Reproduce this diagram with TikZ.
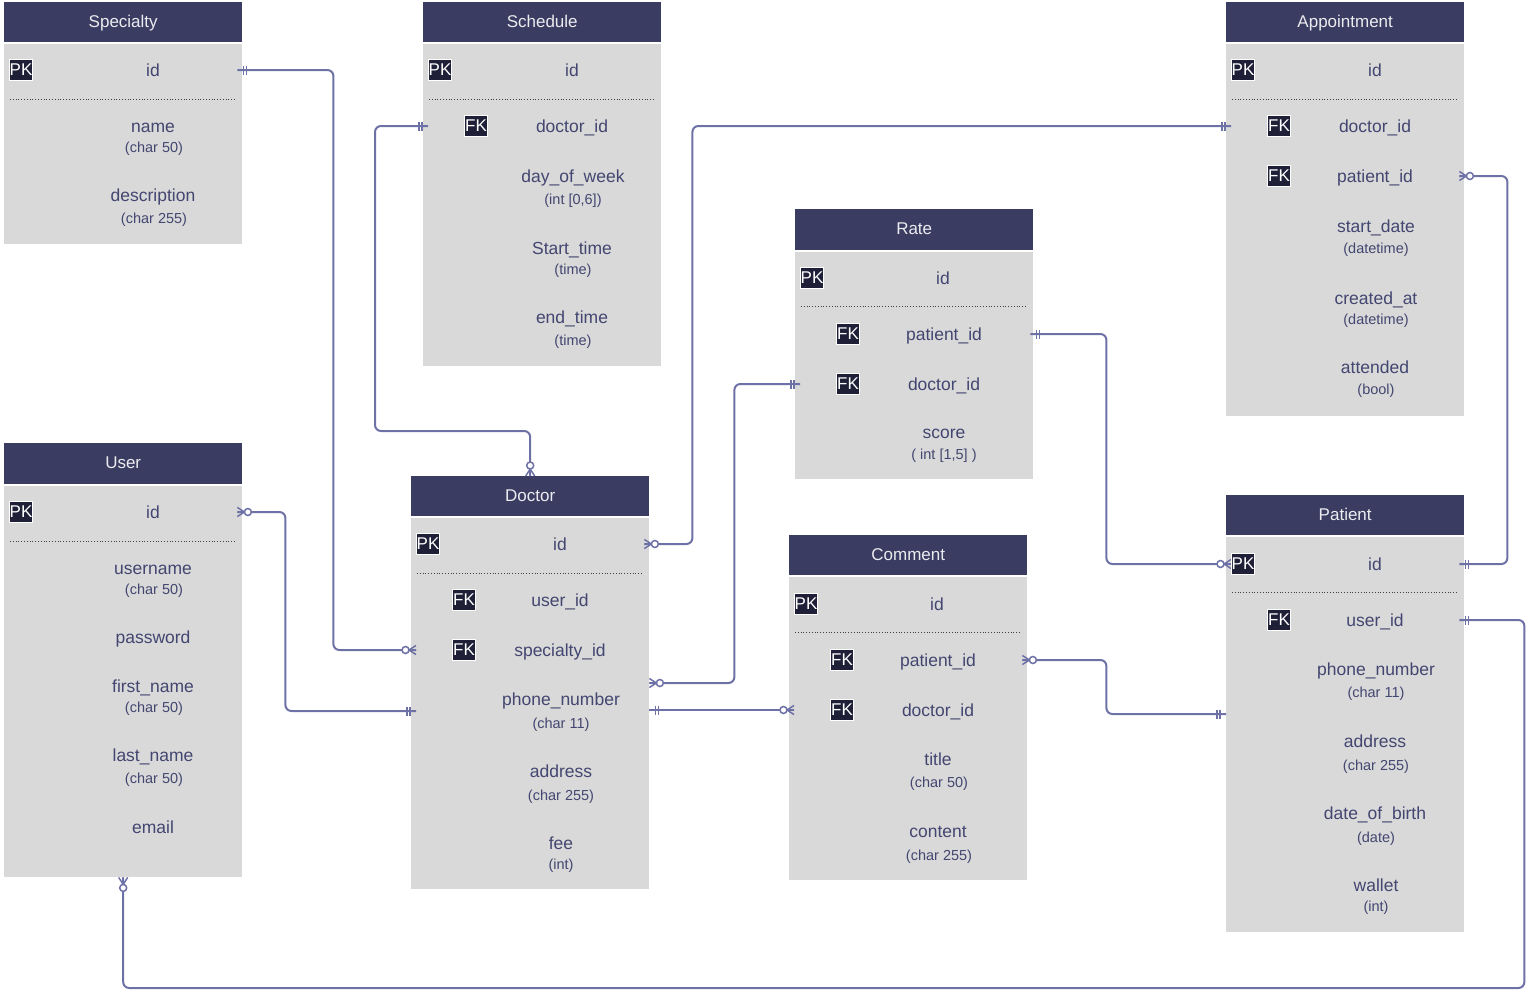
\documentclass[tikz,border=0pt]{standalone}
\usepackage{fontspec}
\setmainfont{Liberation Sans}
\usetikzlibrary{positioning,calc,decorations.markings}
\definecolor{hdrblue}{HTML}{3B3C61}
\definecolor{bodygray}{HTML}{D9D9D9}
\definecolor{keyblue}{HTML}{1F2038}
\definecolor{fieldtext}{HTML}{434670}
\definecolor{linkblue}{HTML}{6E71A6}
\tikzset{
  hdr/.style={fill=hdrblue, text=white!90!hdrblue, minimum width=238pt, minimum height=40pt,
    anchor=north west, inner sep=0pt, text height=13pt, text depth=3pt,
    font=\fontsize{17}{20}\selectfont},
  body/.style={fill=bodygray, minimum width=238pt, anchor=north west, inner sep=0pt},
  fld/.style={text=fieldtext, inner sep=0pt, text height=13.5pt, text depth=0.5pt,
    font=\fontsize{17.5}{20}\selectfont},
  typ/.style={text=fieldtext, inner sep=0pt, text height=11.5pt, text depth=0pt,
    font=\fontsize{14.5}{17}\selectfont},
  key/.style={fill=keyblue, text=white, draw=white, line width=0.7pt, inner sep=0pt,
    minimum width=23pt, minimum height=21pt, font=\fontsize{17}{20}\selectfont},
  sep/.style={dotted, line width=0.8pt, draw=black!75},
  rel/.style={draw=linkblue, line width=2pt, rounded corners=6pt},
  mk/.style={draw=linkblue, line width=1.5pt, rounded corners=0pt},
  one start/.style={postaction={decorate, decoration={markings,
    mark=at position 0pt with {\draw[mk] (6,-4.5)--(6,4.5) (9,-4.5)--(9,4.5);}}}},
  one end/.style={postaction={decorate, decoration={markings,
    mark=at position 1 with {\draw[mk] (-6,-4.5)--(-6,4.5) (-9,-4.5)--(-9,4.5);}}}},
  many start/.style={postaction={decorate, decoration={markings,
    mark=at position 0pt with {\draw[mk] (0,-4.5)--(7,0)--(0,4.5) (0,0)--(7,0);
      \draw[mk, fill=white] (10.5,0) circle (3.5);}}}},
  many end/.style={postaction={decorate, decoration={markings,
    mark=at position 1 with {\draw[mk] (0,-4.5)--(-7,0)--(0,4.5) (0,0)--(-7,0);
      \draw[mk, fill=white] (-10.5,0) circle (3.5);}}}},
}

\begin{document}
\begin{tikzpicture}[x=1pt, y=-1pt]
\useasboundingbox (0,0) rectangle (1527,991);

% Specialty
\node[hdr] (sp-h) at (4,2) {Specialty};
\node[body, minimum height=200pt] (sp) at (4,44) {};
\node[key] (sp-pk) at (21,70) {PK};
\node[fld] (sp-id) at (153,70) {id};
\draw[sep] (10,99) -- (236,99);
\node[fld] (sp-name) at (153,126) {name};
\node[typ] at (154,147) {(char 50)};
\node[fld] (sp-desc) at (153,195) {description};
\node[typ] at (154,218) {(char 255)};

% Schedule
\node[hdr] (sch-h) at (423,2) {Schedule};
\node[body, minimum height=322pt] (sch) at (423,44) {};
\node[key] (sch-pk) at (440,70) {PK};
\node[fld] (sch-id) at (572,70) {id};
\draw[sep] (429,99) -- (655,99);
\node[key] (sch-fk) at (476,126) {FK};
\node[fld] (sch-doc) at (572,126) {doctor\_id};
\node[fld] (sch-day) at (573,176) {day\_of\_week};
\node[typ] at (573,199) {(int [0,6])};
\node[fld] (sch-start) at (572,248) {Start\_time};
\node[typ] at (573,269) {(time)};
\node[fld] (sch-end) at (572,317) {end\_time};
\node[typ] at (573,340) {(time)};

% Appointment
\node[hdr] (app-h) at (1226,2) {Appointment};
\node[body, minimum height=372pt] (app) at (1226,44) {};
\node[key] (app-pk) at (1243,70) {PK};
\node[fld] (app-id) at (1375,70) {id};
\draw[sep] (1232,99) -- (1458,99);
\node[key] (app-fk1) at (1279,126) {FK};
\node[fld] (app-doc) at (1375,126) {doctor\_id};
\node[key] (app-fk2) at (1279,176) {FK};
\node[fld] (app-pat) at (1375,176) {patient\_id};
\node[fld] (app-start) at (1376,226) {start\_date};
\node[typ] at (1376,248) {(datetime)};
\node[fld] (app-created) at (1376,298) {created\_at};
\node[typ] at (1376,319) {(datetime)};
\node[fld] (app-att) at (1375,367) {attended};
\node[typ] at (1376,389) {(bool)};

% Rate
\node[hdr, minimum height=41pt] (rate-h) at (795,209) {Rate};
\node[body, minimum height=227pt] (rate) at (795,252) {};
\node[key] (rate-pk) at (812,278) {PK};
\node[fld] (rate-id) at (943,278) {id};
\draw[sep] (801,306) -- (1027,306);
\node[key] (rate-fk1) at (848,334) {FK};
\node[fld] (rate-pat) at (944,334) {patient\_id};
\node[key] (rate-fk2) at (848,384) {FK};
\node[fld] (rate-doc) at (944,384) {doctor\_id};
\node[fld] (rate-score) at (944,432) {score};
\node[typ] at (944,454) {( int [1,5] )};

% User
\node[hdr, minimum height=41pt] (user-h) at (4,443) {User};
\node[body, minimum height=391pt] (user) at (4,486) {};
\node[key] (user-pk) at (21,512) {PK};
\node[fld] (user-id) at (153,512) {id};
\draw[sep] (10,541) -- (236,541);
\node[fld] (user-name) at (153,568) {username};
\node[typ] at (154,589) {(char 50)};
\node[fld] (user-pw) at (153,637) {password};
\node[fld] (user-first) at (153,686) {first\_name};
\node[typ] at (154,707) {(char 50)};
\node[fld] (user-last) at (153,755) {last\_name};
\node[typ] at (154,778) {(char 50)};
\node[fld] (user-mail) at (153,827) {email};

% Doctor
\node[hdr] (doc-h) at (411,476) {Doctor};
\node[body, minimum height=371pt] (doc) at (411,518) {};
\node[key] (doc-pk) at (428,544) {PK};
\node[fld] (doc-id) at (560,544) {id};
\draw[sep] (417,573) -- (643,573);
\node[key] (doc-fk1) at (464,600) {FK};
\node[fld] (doc-user) at (560,600) {user\_id};
\node[key] (doc-fk2) at (464,650) {FK};
\node[fld] (doc-spec) at (560,650) {specialty\_id};
\node[fld] (doc-phone) at (561,699) {phone\_number};
\node[typ] at (561,723) {(char 11)};
\node[fld] (doc-addr) at (561,771) {address};
\node[typ] at (561,795) {(char 255)};
\node[fld] (doc-fee) at (561,843) {fee};
\node[typ] at (561,864) {(int)};

% Comment
\node[hdr] (comm-h) at (789,535) {Comment};
\node[body, minimum height=303pt] (comm) at (789,577) {};
\node[key] (comm-pk) at (806,604) {PK};
\node[fld] (comm-id) at (937,604) {id};
\draw[sep] (795,632) -- (1021,632);
\node[key] (comm-fk1) at (842,660) {FK};
\node[fld] (comm-pat) at (938,660) {patient\_id};
\node[key] (comm-fk2) at (842,710) {FK};
\node[fld] (comm-doc) at (938,710) {doctor\_id};
\node[fld] (comm-title) at (938,759) {title};
\node[typ] at (939,782) {(char 50)};
\node[fld] (comm-content) at (938,831) {content};
\node[typ] at (939,855) {(char 255)};

% Patient
\node[hdr] (pat-h) at (1226,495) {Patient};
\node[body, minimum height=395pt] (pat) at (1226,537) {};
\node[fld] (pat-id) at (1375,564) {id};
\draw[sep] (1232,592) -- (1458,592);
\node[key] (pat-fk) at (1279,620) {FK};
\node[fld] (pat-user) at (1375,620) {user\_id};
\node[fld] (pat-phone) at (1376,669) {phone\_number};
\node[typ] at (1376,692) {(char 11)};
\node[fld] (pat-addr) at (1375,741) {address};
\node[typ] at (1376,765) {(char 255)};
\node[fld] (pat-birth) at (1375,813) {date\_of\_birth};
\node[typ] at (1376,837) {(date)};
\node[fld] (pat-wallet) at (1376,885) {wallet};
\node[typ] at (1376,906) {(int)};

% relations
\draw[rel, one start, many end] ([xshift=-5pt]sp.east |- sp-id) -- ++(96,0)
  |- ([xshift=5pt]doc.west |- doc-spec);
\draw[rel, one start, many end] ([xshift=5pt]sch.west |- sch-doc) -- ++(-53,0)
  -- ++(0,305) -| (doc-h.north);
\draw[rel, many start, one end] ([xshift=-5pt]doc.east |- doc-id) -- ++(48,0)
  |- ([xshift=5pt]app.west |- app-doc);
\draw[rel, many start, one end] ([yshift=-33pt]doc.east |- doc-spec) -- ++(85,0)
  |- ([xshift=5pt]rate.west |- rate-doc);
\draw[rel, one start, many end] ([yshift=-11pt]doc.east |- doc-phone)
  -- ([xshift=5pt,yshift=-11pt]comm.west |- doc-phone);
\draw[rel, many start, one end] ([xshift=-5pt]user.east |- user-id) -- ++(48,0)
  |- ([xshift=5pt,yshift=-12pt]doc.west |- doc-phone);
\draw[rel, one start, many end] ([xshift=-3pt]rate.east |- rate-pat) -- ++(76,0)
  |- ([xshift=5pt]pat.west |- pat-id);
\draw[rel, many start, one end] ([xshift=-5pt]app.east |- app-pat) -- ++(48,0)
  |- ([xshift=-5pt]pat.east |- pat-id);
\draw[rel, many start, one end] ([xshift=-5pt]comm.east |- comm-pat) -- ++(84,0)
  |- ([yshift=-45pt]pat.west |- pat-phone);
\draw[rel, one start, many end] ([xshift=-5pt]pat.east |- pat-user) -- ++(65,0)
  -- ++(0,368) -| (user.south);
\node[key] (pat-pk) at (1243,564) {PK};
\end{tikzpicture}
\end{document}
